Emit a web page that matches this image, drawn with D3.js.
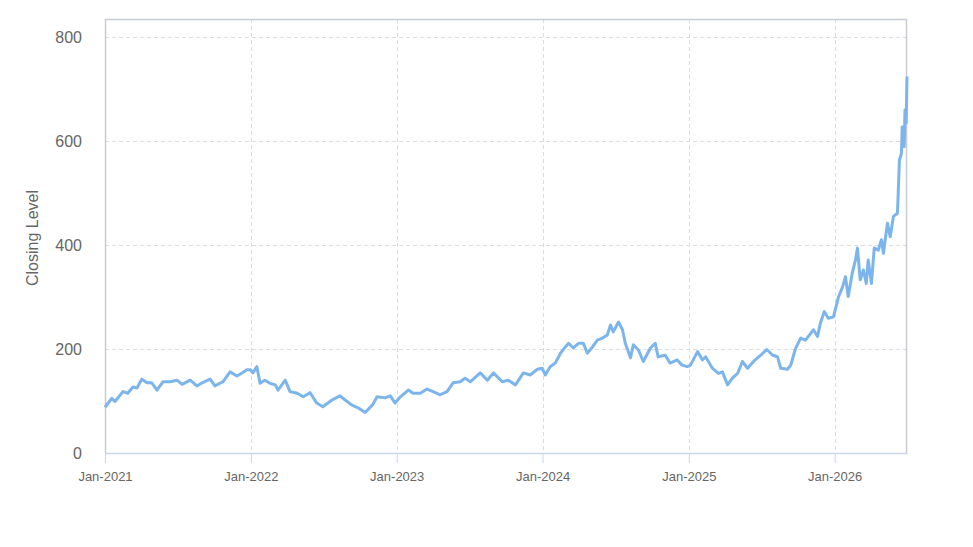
<!DOCTYPE html>
<html>
<head>
<style>
    body { margin: 0; background: #fff; }
    text { font-family: "Liberation Sans", Arial, sans-serif; fill: #666; }
    .grid line { stroke: #dcdcdc; stroke-dasharray: 4, 3; }
</style>
<script src="https://d3js.org/d3.v7.min.js"></script>
</head>
<body>

<svg width="973" height="547"></svg>

<script>
    // dates and closing levels
    var dates = [
        "2021-01-01","2021-01-18","2021-01-26","2021-02-15","2021-02-27","2021-03-12","2021-03-22","2021-04-03",
        "2021-04-16","2021-04-28","2021-05-11","2021-05-26","2021-06-13","2021-06-30","2021-07-13","2021-08-02",
        "2021-08-19","2021-09-01","2021-09-21","2021-10-03","2021-10-23","2021-11-10","2021-11-27","2021-12-10",
        "2021-12-22","2021-12-31","2022-01-06","2022-01-16","2022-01-24","2022-02-05","2022-02-18","2022-03-03",
        "2022-03-10","2022-03-28","2022-04-09","2022-04-27","2022-05-12","2022-05-29","2022-06-15","2022-06-30",
        "2022-07-23","2022-08-12","2022-08-25","2022-09-11","2022-09-26","2022-10-14","2022-11-01","2022-11-13",
        "2022-12-03","2022-12-16","2022-12-28","2023-01-10","2023-01-30","2023-02-11","2023-03-01","2023-03-18",
        "2023-04-02","2023-04-20","2023-05-07","2023-05-22","2023-06-09","2023-06-21","2023-07-04","2023-07-29",
        "2023-08-16","2023-08-31","2023-09-22","2023-10-07","2023-10-25","2023-11-14","2023-12-01","2023-12-19",
        "2023-12-31","2024-01-08","2024-01-20","2024-02-02","2024-02-15","2024-02-27","2024-03-06","2024-03-18",
        "2024-03-31","2024-04-12","2024-04-22","2024-05-05","2024-05-17","2024-05-30","2024-06-11","2024-06-19",
        "2024-06-26","2024-07-09","2024-07-19","2024-07-26","2024-08-08","2024-08-15","2024-08-28","2024-09-09",
        "2024-09-27","2024-10-09","2024-10-16","2024-11-03","2024-11-15","2024-12-03","2024-12-15","2024-12-28",
        "2025-01-05","2025-01-23","2025-02-04","2025-02-12","2025-03-01","2025-03-16","2025-03-26","2025-04-08",
        "2025-04-20","2025-05-03","2025-05-15","2025-05-28","2025-06-12","2025-06-30","2025-07-15","2025-07-30",
        "2025-08-11","2025-08-19","2025-09-05","2025-09-13","2025-09-25","2025-10-08","2025-10-20","2025-11-02",
        "2025-11-09","2025-11-19","2025-11-26","2025-12-06","2025-12-16","2025-12-29","2026-01-11","2026-01-21",
        "2026-01-28","2026-02-04","2026-02-14","2026-02-22","2026-02-27","2026-03-06","2026-03-14","2026-03-21",
        "2026-03-26","2026-04-03","2026-04-10","2026-04-20","2026-04-28","2026-05-03","2026-05-13","2026-05-20",
        "2026-05-28","2026-06-07","2026-06-09","2026-06-12","2026-06-17","2026-06-19","2026-06-24","2026-06-26",
        "2026-06-29","2026-07-01"
    ];
    var closing = [
        88, 105, 99, 118, 115, 127, 125, 142,
        135, 135, 121, 137, 137, 140, 132, 140,
        129, 135, 142, 129, 137, 156, 148, 154,
        160, 160, 154, 166, 134, 140, 134, 131,
        121, 140, 118, 115, 108, 116, 96, 89,
        102, 110, 102, 92, 87, 78, 92, 108,
        106, 110, 96, 108, 121, 115, 115, 123,
        118, 112, 118, 135, 137, 144, 137, 154,
        140, 154, 137, 140, 131, 154, 150, 161,
        163, 150, 166, 173, 192, 204, 211, 202,
        211, 211, 192, 204, 217, 221, 227, 246,
        233, 252, 237, 211, 183, 208, 198, 176,
        202, 211, 185, 188, 173, 179, 169, 166,
        169, 195, 179, 185, 163, 153, 156, 131,
        144, 153, 176, 163, 176, 188, 199, 188,
        185, 163, 161, 169, 201, 221, 217, 230,
        237, 224, 249, 272, 259, 262, 301, 320,
        339, 301, 346, 371, 394, 333, 352, 326,
        371, 326, 394, 390, 410, 384, 442, 416,
        455, 461, 499, 563, 576, 627, 589, 660,
        634, 724
    ];
    var yTicks = [0, 200, 400, 600, 800];
    var xTickLabels = ["Jan-2021", "Jan-2022", "Jan-2023", "Jan-2024", "Jan-2025", "Jan-2026"];

    var parse = d3.timeParse("%Y-%m-%d");
    var data = dates.map(function (d, i) {
        return { date: parse(d), value: closing[i] };
    });

    var margin = { left: 105, top: 19, right: 66, bottom: 94 };
    var width = 973 - margin.left - margin.right;
    var height = 547 - margin.top - margin.bottom;

    var svg = d3.select('svg');
    var g = svg.append('g')
        .attr('transform', 'translate(' + margin.left + ',' + margin.top + ')');

    var xScale = d3.scaleTime()
        .domain([parse("2021-01-01"), parse("2026-07-01")])
        .range([0, width]);

    // 0 sits at the axis, 800 at 37px from the top of the window
    var yScale = d3.scaleLinear()
        .domain([0, 800 * height / (453 - 37)])
        .range([height, 0]);

    var xTicks = xTickLabels.map(function (s) { return d3.timeParse("%b-%Y")(s); });

    // grid
    g.append('g').attr('class', 'grid')
        .selectAll('line')
        .data(yTicks.slice(1))
        .enter().append('line')
        .attr('x1', 0).attr('x2', width)
        .attr('y1', function (d) { return Math.round(yScale(d)) + 0.5; })
        .attr('y2', function (d) { return Math.round(yScale(d)) + 0.5; });

    g.append('g').attr('class', 'grid')
        .selectAll('line')
        .data(xTicks.slice(1))
        .enter().append('line')
        .attr('y1', 0).attr('y2', height)
        .attr('x1', function (d) { return Math.round(xScale(d)) + 0.5; })
        .attr('x2', function (d) { return Math.round(xScale(d)) + 0.5; });

    // plot border (left, top, right)
    g.append('path')
        .attr('d', 'M0.5,' + height + 'V0.5H' + (width - 0.5) + 'V' + height)
        .attr('fill', 'none')
        .attr('stroke', '#c8ccd4')
        .attr('stroke-width', 1.5);

    // x axis
    var xAxis = d3.axisBottom(xScale)
        .tickValues(xTicks)
        .tickFormat(function (d, i) { return xTickLabels[i]; })
        .tickSize(10)
        .tickSizeOuter(0)
        .tickPadding(9);

    var xg = g.append('g')
        .attr('transform', 'translate(0,' + height + ')')
        .call(xAxis);
    xg.select('.domain').attr('stroke', '#ccd6eb').attr('stroke-width', 1.5);
    xg.selectAll('.tick line').attr('stroke', '#ccd6eb');
    xg.selectAll('.tick text')
        .style('font-size', '13px')
        .attr('fill', '#666');

    // y axis
    var yAxis = d3.axisLeft(yScale)
        .tickValues(yTicks)
        .tickSize(0)
        .tickPadding(23);

    var yg = g.append('g').call(yAxis);
    yg.select('.domain').remove();
    yg.selectAll('.tick text')
        .style('font-size', '16px')
        .attr('fill', '#666');

    svg.append('text')
        .attr('transform', 'translate(38,' + (margin.top + 219) + ') rotate(-90)')
        .attr('text-anchor', 'middle')
        .style('font-size', '16px')
        .text('Closing Level');

    // line
    var line = d3.line()
        .x(function (d) { return xScale(d.date); })
        .y(function (d) { return yScale(d.value); });

    g.append('path')
        .datum(data)
        .attr('fill', 'none')
        .attr('stroke', '#7cb5ec')
        .attr('stroke-width', 3)
        .attr('stroke-linejoin', 'round')
        .attr('d', line);
</script>
</body>
</html>
